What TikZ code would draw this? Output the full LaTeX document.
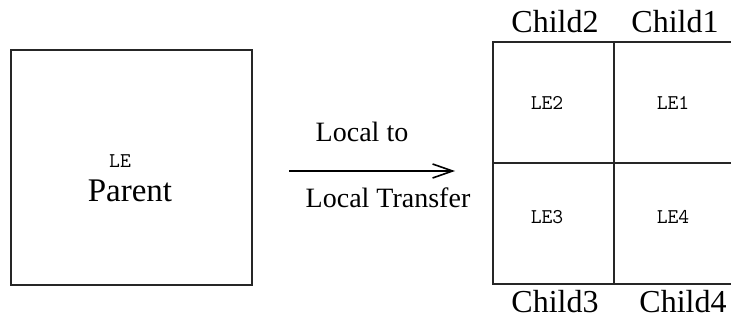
\documentclass[tikz,border=0pt]{standalone}
\usepackage{fontspec}
\setmainfont{Liberation Serif}
\usetikzlibrary{arrows.meta}
\begin{document}
\begin{tikzpicture}[x=1pt,y=-1pt,
  boxline/.style={line width=1.6pt, draw=black!85},
  big/.style={font=\fontsize{32}{34}\selectfont, inner sep=0pt},
  parentfont/.style={font=\fontsize{33}{35}\selectfont, inner sep=0pt},
  mid/.style={font=\fontsize{28}{30}\selectfont, inner sep=0pt},
  le/.style={font=\ttfamily\fontsize{21}{23}\selectfont, inner sep=0pt}]
\useasboundingbox[fill=white] (0,0) rectangle (731,321);
% parent box
\node[boxline, draw, minimum width=241pt, minimum height=235pt, inner sep=0pt] (parent) at (131.5,167.5) {};
\node[le] (le0) at (120,161) {LE};
\node[parentfont] (ptxt) at (130,191) {Parent};
% arrow
\coordinate (a1) at (289,171);
\coordinate (a2) at (455,171);
\draw[line width=1.2pt, -{Straight Barb[length=20pt,width=14pt,line width=1.6pt]}] (a1) -- (a2);
\node[mid] (lt1) at (362,132) {Local to};
\node[mid] (lt2) at (388,198) {Local Transfer};
% grid
\coordinate (g1) at (731,42);
\coordinate (g2) at (493,42);
\coordinate (g3) at (493,284);
\coordinate (g4) at (731,284);
\coordinate (m1) at (614,42);
\coordinate (m2) at (614,284);
\coordinate (h1) at (493,163);
\coordinate (h2) at (731,163);
\draw[boxline] (g1) -- (g2) -- (g3) -- (g4);
\draw[boxline] (m1) -- (m2);
\draw[boxline] (h1) -- (h2);
\node[le] (le2) at (547,103) {LE2};
\node[le] (le1) at (673,103) {LE1};
\node[le] (le3) at (547,217) {LE3};
\node[le] (le4) at (673,217) {LE4};
\node[big] (c2) at (555,22) {Child2};
\node[big] (c1) at (675,22) {Child1};
\node[big] (c3) at (555,302) {Child3};
\node[big] (c4) at (683,302) {Child4};
\end{tikzpicture}
\end{document}
